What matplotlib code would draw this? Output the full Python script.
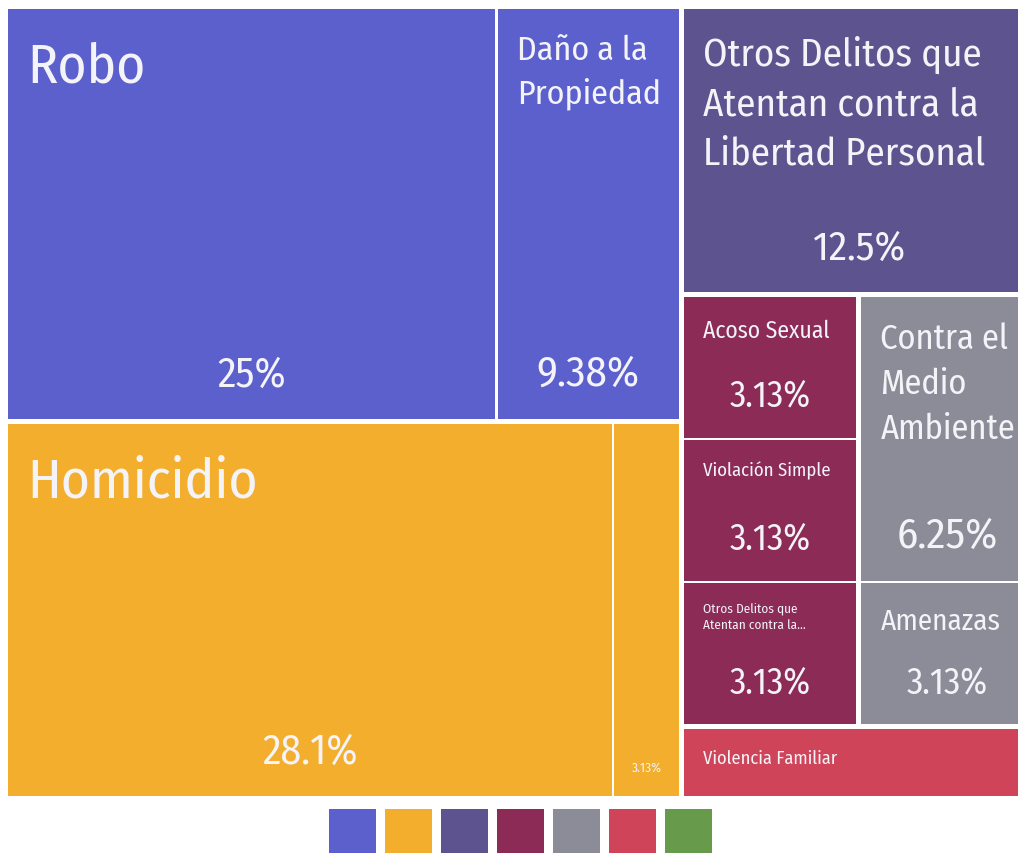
import matplotlib
matplotlib.use("Agg")
import matplotlib.pyplot as plt
from matplotlib import font_manager
from matplotlib.patches import Rectangle

# category colours, one per top-level group (legend order)
GROUP_COLORS = ["#5c60cc", "#f4ae2e", "#5d548f", "#8c2b55", "#8c8c98", "#cf4458", "#689a4c"]

# leaf cells: label text, share of cases (%), group index
labels = ["Robo", "Daño a la\nPropiedad", "Homicidio", "",
          "Otros Delitos que\nAtentan contra la\nLibertad Personal",
          "Acoso Sexual", "Violación Simple", "Otros Delitos que\nAtentan contra la...",
          "Contra el\nMedio\nAmbiente", "Amenazas", "Violencia Familiar"]
percents = [25, 9.38, 28.1, 3.13, 12.5, 3.13, 3.13, 3.13, 6.25, 3.13, 3.13]
group_of = [0, 0, 1, 1, 2, 3, 3, 3, 4, 4, 5]

# label styling per cell (pt); 0 hides the label
NAME_PT = [40, 24.5, 40, 0, 28, 17, 13.5, 9.5, 24.8, 21, 13.3]
VALUE_PT = [30, 31, 30, 9.5, 29.5, 26, 26, 26, 31, 26, 0]

W, H, DPI = 1018, 854, 100
PHI = (1 + 5 ** 0.5) / 2
GROUP_GAP, CELL_GAP = 5.0, 2.5
TEXT = "#f3f3f8"

FAMILY = "DejaVu Sans"
for name in ["Fira Sans Condensed", "Roboto Condensed", "Liberation Sans Narrow"]:
    try:
        font_manager.findfont(name, fallback_to_default=False)
        FAMILY = name
        break
    except ValueError:
        pass
plt.rcParams["font.family"] = [FAMILY, "DejaVu Sans"]


def squarify(values, x0, y0, x1, y1, ratio=PHI):
    """d3-style squarified tiling; values must be sorted descending."""
    rects = [None] * len(values)
    total = float(sum(values))
    n = len(values)
    i0 = i1 = 0
    while i0 < n:
        dx, dy = x1 - x0, y1 - y0
        s = values[i1]
        i1 += 1
        lo = hi = s
        alpha = max(dy / dx, dx / dy) / (total * ratio)
        beta = s * s * alpha
        best = max(hi / beta, beta / lo)
        while i1 < n:
            v = values[i1]
            s2, lo2, hi2 = s + v, min(lo, v), max(hi, v)
            beta = s2 * s2 * alpha
            r = max(hi2 / beta, beta / lo2)
            if r > best:
                break
            s, lo, hi, best = s2, lo2, hi2, r
            i1 += 1
        if dx < dy:
            ny = y0 + dy * s / total
            xx = x0
            for i in range(i0, i1):
                w = dx * values[i] / s
                rects[i] = (xx, y0, xx + w, ny)
                xx += w
            y0 = ny
        else:
            nx = x0 + dx * s / total
            yy = y0
            for i in range(i0, i1):
                h = dy * values[i] / s
                rects[i] = (x0, yy, nx, yy + h)
                yy += h
            x0 = nx
        total -= s
        i0 = i1
    return rects


def shrink(r, p):
    return (r[0] + p, r[1] + p, r[2] - p, r[3] - p)


def treemap(x0, y0, x1, y1):
    groups = sorted(set(group_of))
    gvals = {g: sum(p for p, k in zip(percents, group_of) if k == g) for g in groups}
    order = sorted(groups, key=lambda g: -gvals[g])
    p = GROUP_GAP / 2
    grects = squarify([gvals[g] for g in order], x0 - p, y0 - p, x1 + p, y1 + p)
    cells = {}
    q = CELL_GAP / 2
    for g, gr in zip(order, grects):
        gr = shrink(gr, p)
        idx = sorted([i for i in range(len(percents)) if group_of[i] == g], key=lambda i: -percents[i])
        crs = squarify([percents[i] for i in idx], gr[0] - q, gr[1] - q, gr[2] + q, gr[3] + q)
        for i, cr in zip(idx, crs):
            cells[i] = shrink(cr, q)
    return cells


fig = plt.figure(figsize=(W / DPI, H / DPI), dpi=DPI)
ax = fig.add_axes([0, 0, 1, 1])
ax.set_xlim(0, W)
ax.set_ylim(H, 0)
ax.axis("off")

px = DPI / 72.0
# the tile area runs a little past the right edge of the canvas
cells = treemap(8, 10, 1033.5, 797)
for i, (x0, y0, x1, y1) in cells.items():
    ax.add_patch(Rectangle((x0, y0), x1 - x0, y1 - y0, facecolor=GROUP_COLORS[group_of[i]],
                           edgecolor="none"))
    if NAME_PT[i] and labels[i]:
        fs = NAME_PT[i] * px
        ax.text(x0 + 19, y0 + 15 + 0.28 * fs, labels[i], fontsize=NAME_PT[i], color=TEXT,
                ha="left", va="top", linespacing=1.42)
    if VALUE_PT[i]:
        fs = VALUE_PT[i] * px
        ax.text((x0 + x1) / 2, y1 - 21 - 0.3 * fs, f"{percents[i]:g}%", fontsize=VALUE_PT[i],
                color=TEXT, ha="center", va="baseline")

# colour key below the tiles
n = len(GROUP_COLORS)
size, step = 47, 56
start = (8 + 1033.5) / 2 - ((n - 1) * step + size) / 2
for k, c in enumerate(GROUP_COLORS):
    ax.add_patch(Rectangle((start + k * step, 809.5), size, 60, facecolor=c, edgecolor="none"))

fig.savefig("out.png", dpi=DPI)
